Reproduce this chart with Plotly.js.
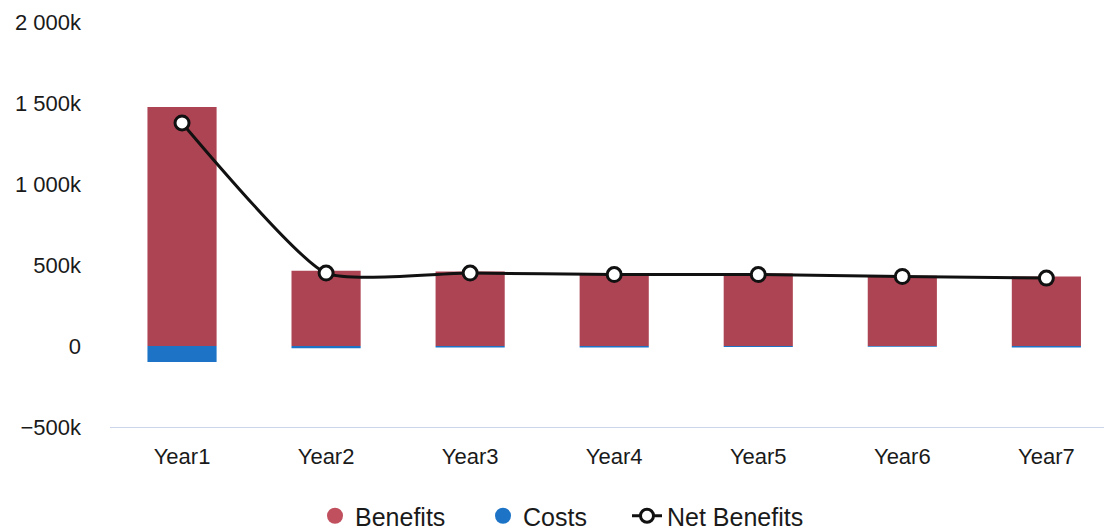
<!DOCTYPE html>
<html>
<head>
<meta charset="utf-8">
<script src="https://cdn.plot.ly/plotly-3.0.1.min.js"></script>
<style>html,body{margin:0;padding:0;background:#fff}#chart{width:1104px;height:529px}</style>
</head>
<body>
<div id="chart"></div>
<script>
const categories = ["Year1", "Year2", "Year3", "Year4", "Year5", "Year6", "Year7"];
const benefits = [1475, 464, 460, 451, 447, 433, 429];        // thousands
const costs = [-98, -14, -10, -10, -6, -4, -10];              // thousands
const netBenefits = [1377, 450, 450, 441, 441, 429, 419];     // thousands
const yTickVals = [-500, 0, 500, 1000, 1500, 2000];
const yTickText = ["\u2212500k", "0", "500k", "1 000k", "1 500k", "2 000k"];

const redColor = "#ad4453";
const blueColor = "#1d74c6";
const font = "Liberation Sans, Arial, sans-serif";

const traces = [
  {type: "bar", x: categories, y: benefits, name: "Benefits", marker: {color: redColor}, width: 0.48, showlegend: false, hoverinfo: "skip"},
  {type: "bar", x: categories, y: costs, name: "Costs", marker: {color: blueColor}, width: 0.48, showlegend: false, hoverinfo: "skip"},
  {type: "scatter", mode: "lines+markers", x: categories, y: netBenefits, name: "Net Benefits",
   line: {color: "#111", width: 3, shape: "spline", smoothing: 0.5},
   marker: {symbol: "circle", size: 14, color: "#fff", line: {color: "#111", width: 3}}, showlegend: false},
  {type: "scatter", mode: "markers", x: [null], y: [null], name: "Benefits", legend: "legend",
   marker: {symbol: "circle", size: 22, color: "#c0505e"}},
  {type: "scatter", mode: "markers", x: [null], y: [null], name: "Costs", legend: "legend2",
   marker: {symbol: "circle", size: 22, color: blueColor}},
  {type: "scatter", mode: "lines+markers", x: [null], y: [null], name: "Net Benefits", legend: "legend3",
   line: {color: "#111", width: 3}, marker: {symbol: "circle", size: 13, color: "#fff", line: {color: "#111", width: 3}}}
];

function legendAt(px) {
  return {orientation: "h", xref: "container", yref: "container", x: px / 1104, xanchor: "left",
          y: (529 - 516) / 529, yanchor: "middle", bgcolor: "rgba(0,0,0,0)", borderwidth: 0,
          font: {family: font, size: 25, color: "#1a1a1a"}, itemsizing: "trace"};
}

const layout = {
  width: 1104, height: 529,
  margin: {l: 110, r: 0, t: 22, b: 102, autoexpand: false},
  paper_bgcolor: "#fff", plot_bgcolor: "#fff",
  barmode: "relative",
  font: {family: font, size: 22, color: "#1a1a1a"},
  xaxis: {
    type: "category", range: [-0.5, 6.4],
    showline: true, linecolor: "#ccd6eb", linewidth: 1,
    showgrid: false, zeroline: false, ticks: "", ticklabelstandoff: 10,
    tickfont: {family: font, size: 22, color: "#1a1a1a"}
  },
  yaxis: {
    range: [-500, 2000], tickvals: yTickVals, ticktext: yTickText,
    showgrid: false, zeroline: false, showline: false, ticks: "",
    ticklabelstandoff: 28,
    tickfont: {family: font, size: 22, color: "#1a1a1a"}
  },
  showlegend: true,
  legend: legendAt(315),
  legend2: legendAt(483),
  legend3: legendAt(627)
};

Plotly.newPlot("chart", traces, layout, {displayModeBar: false, staticPlot: true});
</script>
</body>
</html>
